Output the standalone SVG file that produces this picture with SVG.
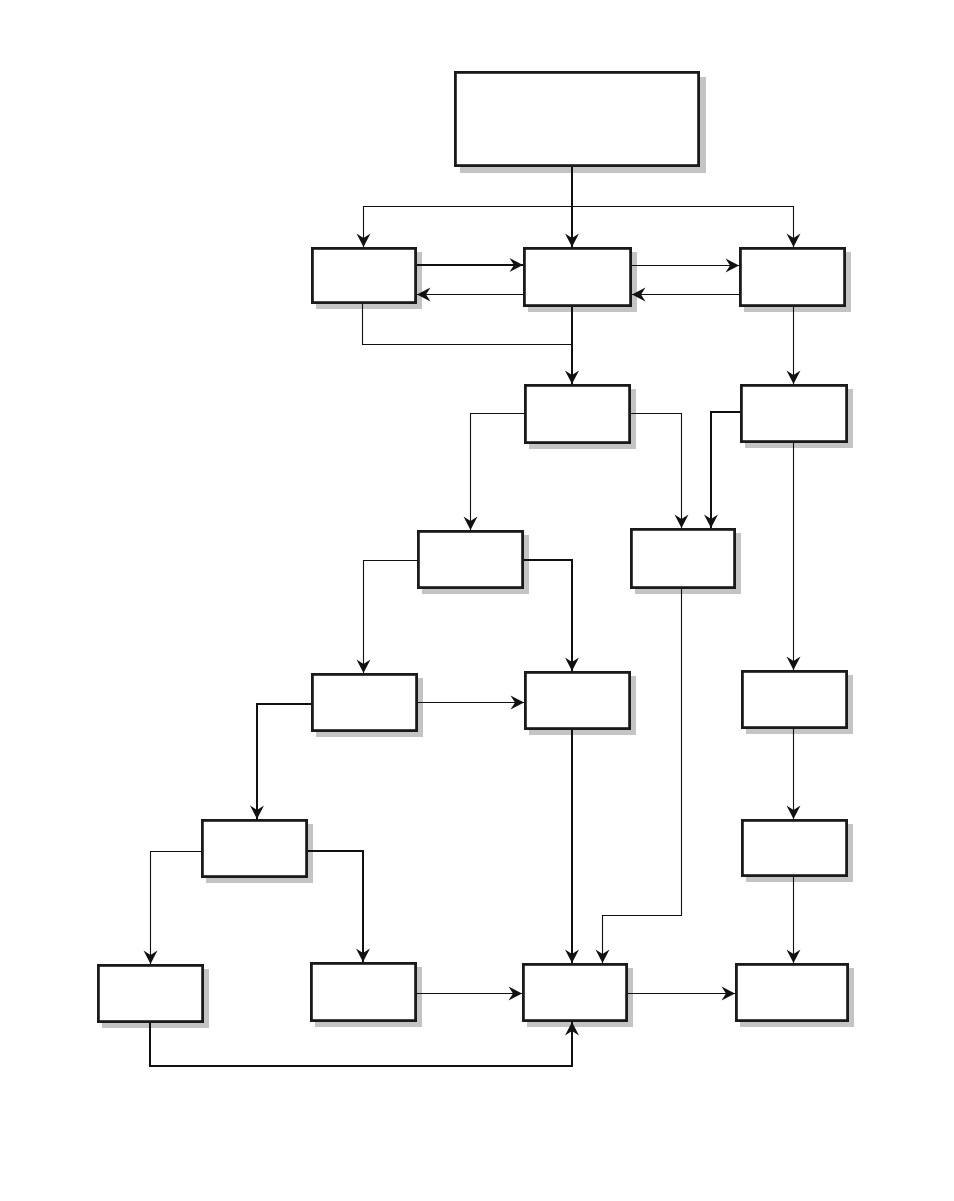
<svg xmlns="http://www.w3.org/2000/svg" width="954" height="1201" viewBox="0 0 954 1201">
<style>
.box rect.sh{fill:#c4c4c4;stroke:none}
.box rect.b{fill:#fff;stroke:#1a1a1a;stroke-width:2.8}
.c path{fill:none;stroke:#111}
.thin{stroke-width:1.1}
.thick{stroke-width:2}
</style>
<defs>
<marker id="ah" viewBox="-15 -8 16 16" refX="0" refY="0" markerWidth="16" markerHeight="16" markerUnits="userSpaceOnUse" orient="auto">
<path d="M0,0 L-13.5,-7 L-9,0 L-13.5,7 Z" fill="#111" stroke="none"/>
</marker>
</defs>
<rect width="954" height="1201" fill="#fff"/>
<g id="nodes">
<g id="T" class="box"><rect class="sh" x="460" y="77" width="246" height="96"/><rect class="b" x="455.4" y="72.4" width="243.2" height="93.2"/></g>
<g id="A" class="box"><rect class="sh" x="316" y="252" width="106" height="57"/><rect class="b" x="312.4" y="248.4" width="103.2" height="54.2"/></g>
<g id="B" class="box"><rect class="sh" x="528" y="252" width="109" height="60"/><rect class="b" x="524.4" y="248.4" width="106.2" height="57.2"/></g>
<g id="C" class="box"><rect class="sh" x="744" y="252" width="107" height="60"/><rect class="b" x="740.4" y="248.4" width="104.2" height="57.2"/></g>
<g id="D" class="box"><rect class="sh" x="529" y="389" width="107" height="60"/><rect class="b" x="525.4" y="385.4" width="104.2" height="57.2"/></g>
<g id="E" class="box"><rect class="sh" x="745" y="389" width="108" height="59"/><rect class="b" x="741.4" y="385.4" width="105.2" height="56.2"/></g>
<g id="F" class="box"><rect class="sh" x="422" y="535" width="107" height="59"/><rect class="b" x="418.4" y="531.4" width="104.2" height="56.2"/></g>
<g id="G" class="box"><rect class="sh" x="635" y="533" width="106" height="61"/><rect class="b" x="631.4" y="529.4" width="103.2" height="58.2"/></g>
<g id="H" class="box"><rect class="sh" x="316" y="678" width="107" height="59"/><rect class="b" x="312.4" y="674.4" width="104.2" height="56.2"/></g>
<g id="I" class="box"><rect class="sh" x="529" y="676" width="107" height="59"/><rect class="b" x="525.4" y="672.4" width="104.2" height="56.2"/></g>
<g id="J" class="box"><rect class="sh" x="746" y="675" width="107" height="59"/><rect class="b" x="742.4" y="671.4" width="104.2" height="56.2"/></g>
<g id="K" class="box"><rect class="sh" x="206" y="824" width="107" height="59"/><rect class="b" x="202.4" y="820.4" width="104.2" height="56.2"/></g>
<g id="L" class="box"><rect class="sh" x="746" y="824" width="107" height="58"/><rect class="b" x="742.4" y="820.4" width="104.2" height="55.2"/></g>
<g id="M" class="box"><rect class="sh" x="102" y="969" width="107" height="59"/><rect class="b" x="98.4" y="965.4" width="104.2" height="56.2"/></g>
<g id="N" class="box"><rect class="sh" x="315" y="967" width="107" height="60"/><rect class="b" x="311.4" y="963.4" width="104.2" height="57.2"/></g>
<g id="O" class="box"><rect class="sh" x="527" y="968" width="106" height="59"/><rect class="b" x="523.4" y="964.4" width="103.2" height="56.2"/></g>
<g id="P" class="box"><rect class="sh" x="740" y="968" width="114" height="59"/><rect class="b" x="736.4" y="964.4" width="111.2" height="56.2"/></g>
</g>
<g id="connectors" class="c">
<path class="thick" d="M572,167 V247" marker-end="url(#ah)"/>
<path class="thin" d="M572,206.5 H363.5 V247" marker-end="url(#ah)"/>
<path class="thin" d="M572,206.5 H793.5 V247" marker-end="url(#ah)"/>
<path class="thick" d="M417,265 H523" marker-end="url(#ah)"/>
<path class="thin" d="M523,294.5 H417" marker-end="url(#ah)"/>
<path class="thin" d="M632,265.5 H739" marker-end="url(#ah)"/>
<path class="thin" d="M739,294.5 H632" marker-end="url(#ah)"/>
<path class="thin" d="M362.5,304 V344.5 H572"/>
<path class="thick" d="M572,307 V384" marker-end="url(#ah)"/>
<path class="thin" d="M793.5,307 V384" marker-end="url(#ah)"/>
<path class="thin" d="M524,413.5 H470.5 V530" marker-end="url(#ah)"/>
<path class="thin" d="M631,413.5 H681.5 V528" marker-end="url(#ah)"/>
<path class="thick" d="M740,412 H711 V528" marker-end="url(#ah)"/>
<path class="thin" d="M793.5,443 V670" marker-end="url(#ah)"/>
<path class="thin" d="M417,560.5 H363.5 V673" marker-end="url(#ah)"/>
<path class="thick" d="M524,560 H572 V671" marker-end="url(#ah)"/>
<path class="thin" d="M681.5,589 V915.5 H602.5 V963" marker-end="url(#ah)"/>
<path class="thin" d="M418,702.5 H524" marker-end="url(#ah)"/>
<path class="thick" d="M311,704 H257 V819" marker-end="url(#ah)"/>
<path class="thick" d="M572,730 V963" marker-end="url(#ah)"/>
<path class="thin" d="M793.5,729 V819" marker-end="url(#ah)"/>
<path class="thin" d="M201,851.5 H150.5 V964" marker-end="url(#ah)"/>
<path class="thick" d="M308,851 H363 V962" marker-end="url(#ah)"/>
<path class="thin" d="M793.5,877 V963" marker-end="url(#ah)"/>
<path class="thin" d="M417,993.5 H522" marker-end="url(#ah)"/>
<path class="thin" d="M628,993.5 H735" marker-end="url(#ah)"/>
<path class="thick" d="M150,1023 V1066 H572 V1022" marker-end="url(#ah)"/>
</g>
</svg>
